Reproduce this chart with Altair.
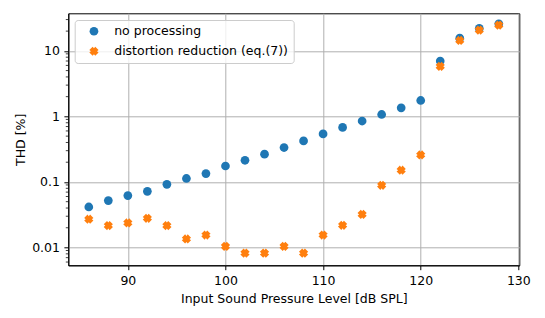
import altair as alt
import pandas as pd

spl = [86, 88, 90, 92, 94, 96, 98, 100, 102, 104, 106, 108, 110, 112, 114, 116, 118, 120, 122, 124, 126, 128]
thd_none = [0.0415, 0.052, 0.062, 0.072, 0.092, 0.113, 0.134, 0.175, 0.214, 0.265, 0.335, 0.423,
            0.54, 0.68, 0.85, 1.07, 1.35, 1.75, 7.0, 15.6, 22.0, 25.8]
thd_red = [0.027, 0.0216, 0.0237, 0.0279, 0.0216, 0.0135, 0.0155, 0.0104, 0.0082, 0.0082, 0.0104, 0.0082,
           0.0155, 0.0218, 0.032, 0.089, 0.151, 0.258, 5.8, 14.4, 20.7, 24.7]
series = ["no processing", "distortion reduction (eq.(7))"]
colors = ["#1f77b4", "#ff7f0e"]
x_ticks = [90, 100, 110, 120, 130]
y_ticks = [0.01, 0.1, 1, 10]
y_minor = [m * 10.0 ** k for k in range(-3, 2) for m in range(2, 10)
           if 0.00535 <= m * 10.0 ** k <= 37.4]

df = pd.DataFrame({
    "spl": spl + spl,
    "thd": thd_none + thd_red,
    "series": [series[0]] * len(spl) + [series[1]] * len(spl),
})
minor_df = pd.DataFrame({"v": y_minor})

FONT = "DejaVu Sans"
XPATH = ("M-0.3,-1.06L-1.06,-0.3L-0.7,0L-1.06,0.3L-0.3,1.06L0,0.7"
         "L0.3,1.06L1.06,0.3L0.7,0L1.06,-0.3L0.3,-1.06L0,-0.7Z")

xscale = alt.Scale(domain=[83.9, 130.1], nice=False, zero=False)
yscale = alt.Scale(type="log", domain=[0.00535, 37.4], nice=False)

def make_legend():
    return alt.Legend(title=None, orient="none", legendX=6.4, legendY=6.7,
                      padding=5, symbolOffset=8, rowPadding=7, labelOffset=14,
                      symbolSize=76, strokeColor="#cccccc",
                      fillColor="rgba(255,255,255,0.8)", cornerRadius=3,
                      labelFontSize=12.5, labelFont=FONT, labelColor="black",
                      symbolStrokeWidth=0, symbolOpacity=1, labelLimit=400)

cscale = alt.Scale(domain=series, range=colors)

points = alt.Chart(df).mark_point(filled=True, opacity=1, size=76, strokeWidth=0).encode(
    x=alt.X("spl:Q", scale=xscale,
            axis=alt.Axis(values=x_ticks, title="Input Sound Pressure Level [dB SPL]",
                          titleY=33, titleBaseline="middle")),
    y=alt.Y("thd:Q", scale=yscale,
            axis=alt.Axis(values=y_ticks, format="~g", title="THD [%]",
                          titleX=-48, titleY=126, titleAngle=270,
                          titleAlign="center", titleBaseline="middle")),
    color=alt.Color("series:N", scale=cscale, legend=make_legend()),
    shape=alt.Shape("series:N", scale=alt.Scale(domain=series, range=["circle", XPATH]),
                    legend=make_legend()),
)

minor = alt.Chart(minor_df).mark_rule(color="black", strokeWidth=0.75).encode(
    y=alt.Y("v:Q", scale=yscale),
    x=alt.value(-2.5),
    x2=alt.value(0),
)

chart = alt.layer(minor, points).properties(
    width=451, height=252,
    background="white",
    autosize=alt.AutoSizeParams(type="none"),
    padding={"left": 60.3, "top": 5.3, "right": 17.7, "bottom": 44.7},
).configure_view(
    stroke="black", strokeWidth=1
).configure_axis(
    grid=True, gridColor="#b0b0b0", gridWidth=1,
    domainColor="black", domainWidth=1,
    tickColor="black", tickWidth=1, tickSize=4.4,
    labelPadding=4.4, labelFont=FONT, labelFontSize=12.5, labelColor="black",
    titleFont=FONT, titleFontSize=12.5, titleColor="black", titleFontWeight="normal",
    labelFlush=False, labelOverlap=False,
)

chart.save("out.html", embed_options={"renderer": "svg", "actions": False})
